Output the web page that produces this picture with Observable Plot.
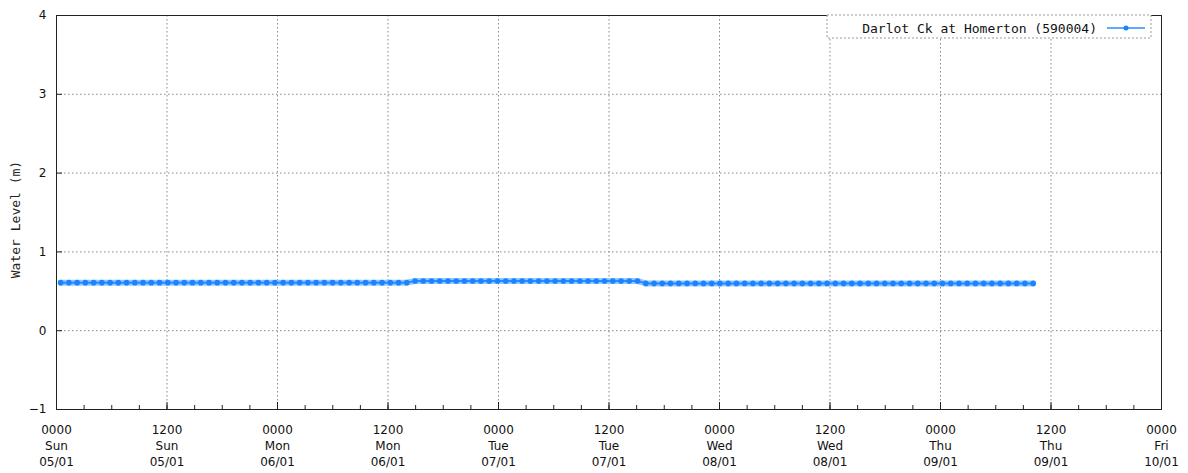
<!DOCTYPE html>
<html><head><meta charset="utf-8">
<script src="https://cdn.jsdelivr.net/npm/d3@7"></script>
<script src="https://cdn.jsdelivr.net/npm/@observablehq/plot@0.6"></script>
<style>body{margin:0;background:#fff}</style>
</head><body><div id="chart"></div>
<script>
const seriesName = "Darlot Ck at Homerton (590004)";
const yLabel = "Water Level (m)";
const yTicks = [-1, 0, 1, 2, 3, 4];
const xDomain = ["2014-01-05T00:00Z", "2014-01-10T00:00Z"];
const xTickDates = [
  "2014-01-05T00:00Z","2014-01-05T12:00Z","2014-01-06T00:00Z","2014-01-06T12:00Z",
  "2014-01-07T00:00Z","2014-01-07T12:00Z","2014-01-08T00:00Z","2014-01-08T12:00Z",
  "2014-01-09T00:00Z","2014-01-09T12:00Z","2014-01-10T00:00Z"
];
const sampleStart = "2014-01-05T00:27Z";
const sampleStepMinutes = 53.7;
const levels = [
  0.61,0.61,0.61,0.61,0.61,0.61,0.61,0.61,0.61,0.61,
  0.61,0.61,0.61,0.61,0.61,0.61,0.61,0.61,0.61,0.61,
  0.61,0.61,0.61,0.61,0.61,0.61,0.61,0.61,0.61,0.61,
  0.61,0.61,0.61,0.61,0.61,0.61,0.61,0.61,0.61,0.61,
  0.61,0.61,0.61,
  0.63,0.63,0.63,0.63,0.63,0.63,0.63,0.63,0.63,0.63,
  0.63,0.63,0.63,0.63,0.63,0.63,0.63,0.63,0.63,0.63,
  0.63,0.63,0.63,0.63,0.63,0.63,0.63,0.63,
  0.60,0.60,0.60,0.60,0.60,0.60,0.60,0.60,0.60,0.60,
  0.60,0.60,0.60,0.60,0.60,0.60,0.60,0.60,0.60,0.60,
  0.60,0.60,0.60,0.60,0.60,0.60,0.60,0.60,0.60,0.60,
  0.60,0.60,0.60,0.60,0.60,0.60,0.60,0.60,0.60,0.60,
  0.60,0.60,0.60,0.60,0.60,0.60,0.60,0.60
];

const t0 = new Date(sampleStart);
const data = levels.map((v, i) => ({time: new Date(+t0 + i * sampleStepMinutes * 60000), level: v}));
const majorTicks = xTickDates.map(d => new Date(d));
const minorTicks = d3.utcHour.every(3).range(new Date(xDomain[0]), new Date(new Date(xDomain[1]).getTime() + 1));
const fmt = d3.utcFormat("%H%M\n%a\n%d/%m");

const lineColor = "#2b8cff";
const bandColor = "#93c8ff";
const dotColor = "#1a84ff";

function legend(index, scales, values, dims) {
  const right = dims.width - dims.marginRight;
  const top = dims.marginTop;
  const g = d3.create("svg:g");
  g.append("rect")
    .attr("x", right - 334).attr("y", top).attr("width", 324).attr("height", 23)
    .attr("fill", "white").attr("stroke", "#999").attr("stroke-dasharray", "2,2");
  g.append("text")
    .attr("x", right - 64).attr("y", top + 14).attr("text-anchor", "end")
    .attr("dominant-baseline", "middle")
    .attr("font-family", "DejaVu Sans Mono").attr("font-size", 13).attr("fill", "#111")
    .text(seriesName);
  g.append("line")
    .attr("x1", right - 54).attr("x2", right - 16).attr("y1", top + 13).attr("y2", top + 13)
    .attr("stroke", lineColor).attr("stroke-width", 1.5);
  g.append("circle")
    .attr("cx", right - 35).attr("cy", top + 13).attr("r", 2.5).attr("fill", dotColor);
  return g.node();
}

const plot = Plot.plot({
  width: 1188,
  height: 473,
  marginLeft: 56,
  marginRight: 27,
  marginTop: 15,
  marginBottom: 64,
  style: {fontFamily: "DejaVu Sans", fontSize: "12px", color: "#111", background: "white"},
  x: {type: "utc", domain: xDomain.map(d => new Date(d)), label: null},
  y: {domain: [-1, 4], label: null},
  marks: [
    Plot.gridX(majorTicks, {stroke: "#888", strokeOpacity: 1, strokeDasharray: "1.5,2.5"}),
    Plot.gridY(yTicks, {stroke: "#888", strokeOpacity: 1, strokeDasharray: "1.5,2.5"}),
    Plot.line(data, {x: "time", y: "level", stroke: bandColor, strokeWidth: 6}),
    Plot.line(data, {x: "time", y: "level", stroke: lineColor, strokeWidth: 2}),
    Plot.dot(data, {x: "time", y: "level", r: 2.8, fill: dotColor}),
    Plot.axisX(minorTicks, {anchor: "bottom", tickSize: 4, dy: -4, tickFormat: () => "", stroke: "#222"}),
    Plot.axisX(majorTicks, {anchor: "bottom", tickSize: 7, dy: -7, tickFormat: () => "", stroke: "#222"}),
    Plot.axisX(majorTicks, {anchor: "bottom", tickSize: 0, tickPadding: 13, tickFormat: fmt, lineHeight: 1.35, fill: "#111", label: null}),
    Plot.axisY(yTicks, {anchor: "left", tickSize: 6, dx: 6, tickFormat: () => "", stroke: "#222"}),
    Plot.axisY(yTicks, {anchor: "left", tickSize: 0, tickPadding: 10, tickFormat: d => d < 0 ? "\u2212" + Math.abs(d) : String(d), fill: "#111", label: null}),
    Plot.frame({stroke: "#222"}),
    Plot.text([yLabel], {frameAnchor: "left", textAnchor: "middle", rotate: -90, dx: -41, dy: 7, fontFamily: "DejaVu Sans Mono", fontSize: 13, fill: "#222"}),
    legend
  ]
});
document.getElementById("chart").appendChild(plot);
</script>
</body></html>
